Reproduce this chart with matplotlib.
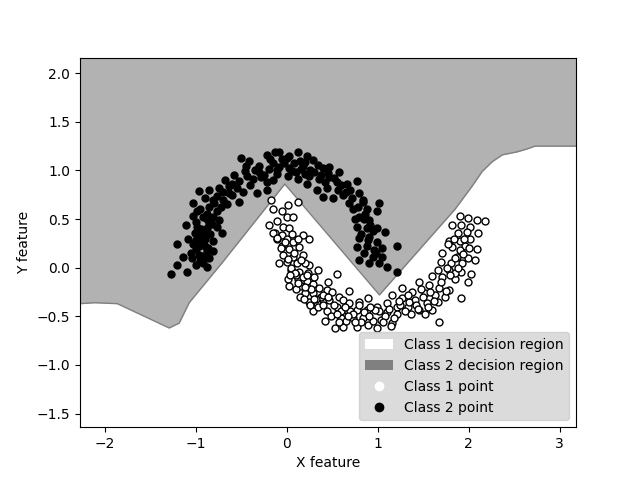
import numpy as np
import matplotlib.pyplot as plt
from matplotlib.patches import Patch
from matplotlib.lines import Line2D

# -- Class 2 points (upper moon) --------------------------------
x2 = [-0.50, -0.41, -0.22, -0.13, -0.46, -0.30, -0.19, -0.37, -0.52, -0.63,
      -0.74, -0.85, -0.96, -0.76, -0.63, -0.48, -0.33, -0.22, -0.22, -1.03,
      -0.81, -0.65, -0.52, -0.85, -0.77, -1.03, -0.92, -0.81, -0.74, -0.85,
      -1.10, -0.98, -0.87, -0.77, -0.71, -1.01, -0.92, -0.98, -1.03, -0.92,
      -1.20, -0.81, -0.99, -0.88, -0.96, -1.14, -1.04, -0.85, -0.81, -0.92,
      -0.99, -1.20, -1.09, -1.27, -0.88,
      -0.08, 0.03, 0.12, 0.22, 0.29, 0.40, 0.47, 0.58, 0.47, 0.36,
      0.25, 0.16, 0.03, -0.08, -0.15, -0.11, 0.01, 0.12, 0.22, 0.33,
      0.44, 0.56, 0.66, 0.77, 0.51, 0.62, 0.40, 0.69, 0.80, 0.84,
      0.73, 0.88, 1.02, 0.99, 0.80, 0.91, 0.77, 0.88, 0.99, 1.08,
      0.80, 0.91, 0.77, 0.88, 0.99, 1.21, 0.80, 0.95, 1.05, 1.10,
      1.21, 0.91, 1.02,
      -0.05, 0.08, 0.18, -0.30, -0.58, -0.68, 0.30, 0.45, 0.55, 0.65,
      0.72, 0.85, 0.95, -0.90, -0.95, -0.88, -1.00, -0.95, -0.90, -1.05,
      -0.95, -0.40, -0.28, -0.15, 0.10, 0.20, -0.03, 0.35, -0.55, -0.70,
      0.98, 0.85, -1.08, 1.05,
      -0.45, -0.35, -0.25, -0.10, 0.06, 0.15, 0.26, 0.38, -0.60, -0.70,
      -0.80, -0.88, -0.94, -0.90, -0.86, -0.96, -0.84, -0.92, -1.00, -0.82,
      0.60, 0.70, 0.78, 0.86, 0.92, 0.82, 0.90, 0.96, 0.75, 0.84,
      -0.60, -0.44, -0.18, 0.00, 0.20, 0.42, 0.52, -0.72, -0.98, -0.90]
y2 = [1.13, 1.10, 1.16, 1.19, 0.99, 0.98, 1.01, 0.91, 0.89, 0.84,
      0.82, 0.80, 0.79, 0.74, 0.77, 0.78, 0.77, 0.80, 0.88, 0.67,
      0.70, 0.65, 0.68, 0.62, 0.58, 0.53, 0.52, 0.52, 0.49, 0.46,
      0.44, 0.42, 0.41, 0.42, 0.36, 0.36, 0.36, 0.29, 0.24, 0.26,
      0.24, 0.27, 0.19, 0.17, 0.13, 0.11, 0.10, 0.10, 0.17, 0.05,
      0.03, 0.03, -0.04, -0.07, 0.01,
      1.19, 1.15, 1.19, 1.15, 1.11, 1.03, 1.04, 0.98, 0.93, 0.91,
      0.94, 1.01, 1.03, 1.04, 1.08, 0.96, 0.94, 0.91, 0.86, 0.80,
      0.82, 0.80, 0.86, 0.89, 0.72, 0.75, 0.73, 0.67, 0.77, 0.68,
      0.60, 0.60, 0.67, 0.58, 0.52, 0.49, 0.42, 0.41, 0.41, 0.37,
      0.31, 0.32, 0.21, 0.22, 0.26, 0.22, 0.08, 0.11, 0.11, 0.01,
      -0.04, 0.05, 0.05,
      1.12, 1.08, 1.05, 1.05, 0.95, 0.90, 0.98, 0.97, 0.88, 0.78,
      0.72, 0.50, 0.38, 0.72, 0.60, 0.55, 0.47, 0.33, 0.22, 0.15,
      0.07, 0.85, 0.93, 0.90, 0.98, 0.96, 1.08, 1.06, 0.82, 0.70,
      0.15, 0.15, 0.30, 0.20,
      1.05, 1.00, 0.95, 1.00, 0.99, 1.10, 1.00, 0.95, 0.86, 0.78,
      0.66, 0.50, 0.40, 0.32, 0.20, 0.22, 0.35, 0.12, 0.28, 0.45,
      0.85, 0.80, 0.62, 0.55, 0.44, 0.35, 0.28, 0.18, 0.50, 0.70,
      0.75, 0.94, 1.12, 1.13, 1.09, 0.88, 0.92, 0.62, 0.58, 0.30]

# -- Class 1 points (lower moon) --------------------------------
x1 = [-0.17, 0.01, 0.12, -0.15, -0.19, 0.00, 0.07, -0.04, 0.03, -0.13,
      -0.05, 0.18, 0.25, -0.11, 0.00, 0.07, -0.05, 0.03, 0.14, -0.04,
      0.07, 0.18, 0.00, 0.11, 0.25, 0.34, 0.05, 0.14, 0.23, 0.55,
      0.01, 0.12, 0.22, 0.03, 0.16, 0.29, 0.36, 0.44, 0.20, 0.29,
      0.38, 0.47, 0.58, 0.69, 0.62, 0.69, 0.80, 0.89, 0.99, 0.33,
      0.55, 0.44, 0.29, 0.66, 0.77, 0.88, 0.49, 0.60, 0.73, 0.84,
      0.42, 0.53, 0.62, 0.77, 0.99, 0.89,
      1.90, 1.99, 2.09, 2.18, 1.82, 1.92, 2.01, 1.88, 1.98, 2.10,
      1.79, 1.90, 2.01, 1.82, 1.96, 2.09, 1.71, 1.87, 1.99, 1.70,
      1.81, 1.93, 2.07, 1.66, 1.79, 1.92, 2.03, 1.60, 1.71, 1.85,
      1.99, 1.27, 1.46, 1.57, 1.68, 1.79, 1.38, 1.52, 1.63, 1.74,
      1.92, 1.16, 1.27, 1.41, 1.54, 1.66, 1.10, 1.21, 1.33, 1.46,
      1.60, 1.10, 1.21, 1.37, 1.52, 1.04, 1.16, 1.68,
      0.05, 0.10, 0.18, 0.08, 0.20, 0.12, -0.08, -0.06, 0.30, 0.40,
      0.50, 0.52, 0.70, 0.80, 0.95, 1.02, 1.08, 1.12, 1.25, 1.30,
      1.42, 1.50, 1.58, 1.70, 1.76, 1.85, 1.90, 1.95, 2.00, 1.85,
      0.60, 0.35, 0.25, 0.15, 0.10, 0.65, 0.85, 1.15, 0.45, 0.06,
      -0.10, -0.05, -0.15, -0.11,
      0.02, 0.09, 0.16, 0.22, 0.27, 0.13, 0.19, 0.26, 0.32, 0.40,
      0.46, 0.55, 0.64, 0.73, 0.82, 0.91, 0.97, 1.06, 1.18, 1.24,
      1.35, 1.44, 1.55, 1.62, 1.75, 1.80, 1.88, 1.94, 1.84, 1.77,
      0.58, 0.68, 0.75, 0.92, -0.02, 0.04, 0.20, 0.30, 1.48, 1.33]
y1 = [0.70, 0.64, 0.68, 0.60, 0.44, 0.52, 0.52, 0.42, 0.41, 0.36,
      0.34, 0.34, 0.29, 0.29, 0.29, 0.26, 0.22, 0.19, 0.21, 0.13,
      0.11, 0.13, 0.06, 0.05, 0.03, -0.02, -0.02, -0.04, -0.05, -0.07,
      -0.12, -0.12, -0.14, -0.19, -0.19, -0.17, -0.21, -0.23, -0.26, -0.26,
      -0.30, -0.33, -0.30, -0.24, -0.33, -0.36, -0.35, -0.31, -0.40, -0.36,
      -0.40, -0.45, -0.45, -0.43, -0.43, -0.43, -0.50, -0.52, -0.52, -0.52,
      -0.55, -0.62, -0.61, -0.61, -0.62, -0.59,
      0.53, 0.51, 0.49, 0.48, 0.44, 0.44, 0.42, 0.36, 0.37, 0.36,
      0.27, 0.27, 0.29, 0.21, 0.22, 0.19, 0.15, 0.11, 0.10, 0.06,
      0.05, 0.05, 0.08, -0.02, -0.02, -0.04, -0.07, -0.09, -0.10, -0.12,
      -0.15, -0.21, -0.15, -0.18, -0.21, -0.23, -0.25, -0.26, -0.28, -0.30,
      -0.31, -0.28, -0.31, -0.33, -0.36, -0.35, -0.36, -0.40, -0.40, -0.43,
      -0.43, -0.46, -0.48, -0.48, -0.48, -0.54, -0.57, -0.56,
      0.00, -0.08, -0.10, 0.15, 0.05, 0.30, 0.05, 0.20, -0.10, -0.28,
      -0.25, -0.38, -0.45, -0.38, -0.55, -0.45, -0.50, -0.42, -0.38, -0.45,
      -0.38, -0.30, -0.25, -0.15, 0.00, 0.10, 0.18, 0.30, 0.20, -0.05,
      -0.45, -0.40, -0.35, -0.30, -0.22, -0.55, -0.46, -0.60, -0.15, 0.35,
      0.48, 0.58, 0.36, 0.31,
      0.09, -0.05, 0.08, -0.08, -0.22, -0.16, -0.32, -0.38, -0.32, -0.38,
      -0.30, -0.48, -0.40, -0.48, -0.56, -0.50, -0.44, -0.56, -0.52, -0.34,
      -0.35, -0.42, -0.40, -0.34, -0.24, -0.08, 0.00, 0.14, 0.30, 0.24,
      -0.56, -0.50, -0.56, -0.40, 0.26, -0.08, -0.20, -0.32, -0.22, -0.28]

# -- Decision boundary (class 2 region lies above it) -----------
bound_x = [-2.27, -2.11, -1.86, -1.29, -1.18, -1.07, -0.70, -0.02, 1.02,
           1.85, 2.04, 2.15, 2.26, 2.37, 2.53, 2.64, 2.73, 3.18]
bound_y = [-0.37, -0.36, -0.37, -0.62, -0.57, -0.36, 0.06, 0.86, -0.28,
           0.60, 0.84, 0.99, 1.09, 1.16, 1.19, 1.22, 1.25, 1.25]

x_min, x_max = -1.27 - 1, 2.18 + 1
y_min, y_max = -0.64 - 1, 1.16 + 1

fig, ax = plt.subplots(figsize=(6.4, 4.8))
ax.fill_between(bound_x, bound_y, y_max, color="gray", alpha=0.6, lw=0)
ax.plot(bound_x, bound_y, color="gray", lw=1)

ax.scatter(x1, y1, s=25, c="white", edgecolors="black", linewidths=1, zorder=3)
ax.scatter(x2, y2, s=25, c="black", edgecolors="black", linewidths=1, zorder=3)

ax.set_xlim(x_min, x_max)
ax.set_ylim(y_min, y_max)
ax.set_xlabel("X feature")
ax.set_ylabel("Y feature")

handles = [
    Patch(facecolor="white", label="Class 1 decision region"),
    Patch(facecolor="gray", label="Class 2 decision region"),
    Line2D([], [], marker="o", color="white", ls="", label="Class 1 point"),
    Line2D([], [], marker="o", color="black", ls="", label="Class 2 point"),
]
ax.legend(handles=handles, loc="lower right", facecolor="lightgray")

plt.savefig("out.png", dpi=100)
